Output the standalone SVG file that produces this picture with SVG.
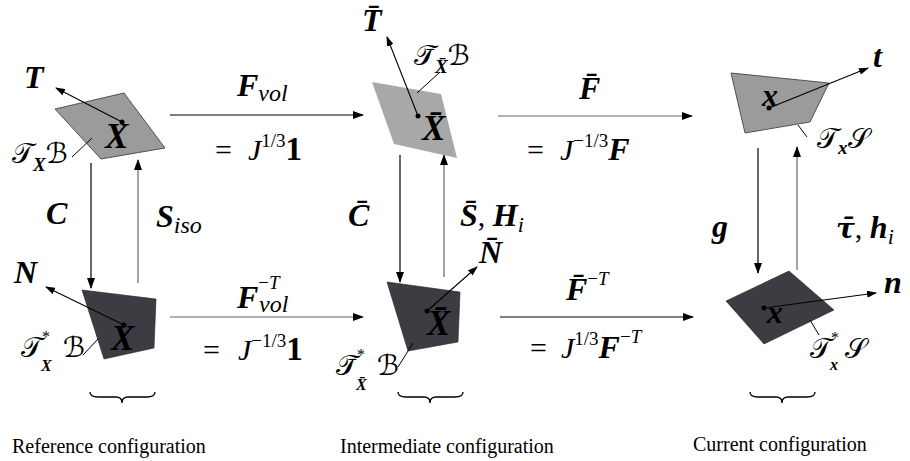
<svg xmlns="http://www.w3.org/2000/svg" width="910" height="461" viewBox="0 0 910 461">
<defs>
<marker id="ah" markerWidth="11" markerHeight="8" refX="10" refY="4" orient="auto" markerUnits="userSpaceOnUse"><path d="M0,0 L11,4 L0,8 z" fill="#000"/></marker>
<marker id="vh" markerWidth="10" markerHeight="7" refX="9" refY="3.5" orient="auto" markerUnits="userSpaceOnUse"><path d="M0,0 L10,3.5 L0,7 z" fill="#000"/></marker>
</defs>
<style>
text{font-family:"Liberation Serif","DejaVu Serif",serif;fill:#000}
.m{font-style:italic;font-weight:bold}
.i{font-style:italic;font-weight:normal}
.r{font-style:normal;font-weight:normal}
.b{font-style:normal;font-weight:bold}
.g{font-family:"DejaVu Serif",serif;font-style:italic;font-weight:bold}
.cal{font-family:"DejaVu Sans","DejaVu Serif",serif;font-style:normal;font-weight:normal}
.lt{fill:#9b9b9b;stroke:#333;stroke-width:0.8}
.lt2{fill:#a8a8a8}
.dk{fill:#3c3c42;stroke:#222;stroke-width:0.6}
.vec{stroke:#000;stroke-width:1.1;fill:none;marker-end:url(#vh)}
.lead{stroke:#000;stroke-width:1;fill:none}
.brace{stroke:#000;stroke-width:1.3;fill:none}
.cap{font-size:20px}
.e{stroke:#000;stroke-width:1.2;fill:none;marker-end:url(#ah)}
.eg{stroke:#666;stroke-width:1.2;fill:none;marker-end:url(#ah)}
</style>

<g id="connectors">
<line class="e" x1="170" y1="115" x2="363" y2="115"/>
<line class="eg" x1="170" y1="317" x2="363" y2="317"/>
<line class="eg" x1="498" y1="116" x2="692" y2="116"/>
<line class="e" x1="500" y1="317" x2="693" y2="317"/>
<line class="e" x1="91" y1="163" x2="91" y2="288"/>
<line class="eg" x1="138" y1="283" x2="138" y2="160"/>
<line class="e" x1="400" y1="155" x2="400" y2="282"/>
<line class="eg" x1="444" y1="277" x2="444" y2="155"/>
<line class="e" x1="758" y1="148" x2="758" y2="273"/>
<line class="eg" x1="797" y1="270" x2="797" y2="147"/>
</g>

<g id="edge-labels">
<text x="237" y="96"><tspan class="m" font-size="32">F</tspan><tspan class="i" font-size="24" dy="5">vol</tspan></text>
<text x="215" y="160"><tspan class="r" font-size="30">=</tspan><tspan class="i" font-size="30" x="248">J</tspan><tspan class="r" font-size="19" dy="-13">1/3</tspan><tspan class="b" font-size="33" dy="13">1</tspan></text>
<text x="237" y="308"><tspan class="m" font-size="32">F</tspan><tspan class="r" font-size="19" dy="-19">−</tspan><tspan class="i" font-size="19">T</tspan><tspan class="i" font-size="24" x="259" dy="23">vol</tspan></text>
<text x="203" y="360"><tspan class="r" font-size="30">=</tspan><tspan class="i" font-size="30" x="238">J</tspan><tspan class="r" font-size="19" dy="-13">−1/3</tspan><tspan class="b" font-size="33" dy="13">1</tspan></text>
<text x="579" y="99"><tspan class="m" font-size="32">F̄</tspan></text>
<text x="527" y="160"><tspan class="r" font-size="30">=</tspan><tspan class="i" font-size="30" x="560">J</tspan><tspan class="r" font-size="19" dy="-13">−1/3</tspan><tspan class="m" font-size="32" dy="13">F</tspan></text>
<text x="566" y="300"><tspan class="m" font-size="32">F̄</tspan><tspan class="r" font-size="19" dy="-15">−</tspan><tspan class="i" font-size="19">T</tspan></text>
<text x="530" y="358"><tspan class="r" font-size="30">=</tspan><tspan class="i" font-size="30" x="561">J</tspan><tspan class="r" font-size="19" dy="-13">1/3</tspan><tspan class="m" font-size="32" dy="13">F</tspan><tspan class="r" font-size="19" dy="-15">−</tspan><tspan class="i" font-size="19">T</tspan></text>
<text class="m" x="46" y="224" font-size="32">C</text>
<text x="156" y="227"><tspan class="m" font-size="32">S</tspan><tspan class="i" font-size="24" dy="6">iso</tspan></text>
<text class="m" x="348" y="226" font-size="32">C̄</text>
<text x="460" y="226"><tspan class="m" font-size="32">S̄</tspan><tspan class="r" font-size="30">, </tspan><tspan class="m" font-size="32">H</tspan><tspan class="i" font-size="22" dy="6">i</tspan></text>
<text class="m" x="712" y="237" font-size="32">g</text>
<text x="836" y="238"><tspan class="g" font-size="28">τ̄</tspan><tspan class="r" font-size="30">, </tspan><tspan class="m" font-size="32">h</tspan><tspan class="i" font-size="22" dy="6">i</tspan></text>
</g>

<g id="node-ref-tangent">
<polygon class="lt" points="55,109 124,93 165,148 101,159"/>
<line class="vec" x1="122" y1="122" x2="56" y2="88"/>
<circle cx="122" cy="122" r="2.5"/>
<line class="lead" x1="92" y1="138" x2="72" y2="157"/>
<text class="m" x="24" y="88" font-size="32">T</text>
<text class="m" x="105" y="148" font-size="35">X</text>
<text x="12" y="163" font-size="28"><tspan class="cal">𝒯</tspan><tspan class="m" font-size="19" dy="8">X</tspan><tspan class="cal" dy="-8">ℬ</tspan></text>
</g>

<g id="node-ref-cotangent">
<polygon class="dk" points="82,290 156,299 154,348 104,359"/>
<line class="vec" x1="124" y1="325" x2="46" y2="287"/>
<circle cx="124" cy="325" r="2.5"/>
<line class="lead" x1="98" y1="339" x2="83" y2="355"/>
<text class="m" x="14" y="283" font-size="32">N</text>
<text class="m" x="111" y="350" font-size="35">X</text>
<text x="21" y="357" font-size="28"><tspan class="cal">𝒯</tspan><tspan class="r" font-size="16" dy="-15">*</tspan><tspan class="m" font-size="16" x="41" dy="29">X</tspan><tspan class="cal" x="63" dy="-14">ℬ</tspan></text>
<path class="brace" d="M90,392 Q90,397 98,397 L116,397 Q122,397 122,403 Q122,397 128,397 L147,397 Q155,397 155,392"/>
</g>

<g id="node-int-tangent">
<polygon class="lt2" points="372,82 441,94 457,158 394,144"/>
<line class="vec" x1="418" y1="116" x2="387" y2="37"/>
<circle cx="418" cy="116" r="2.5"/>
<line class="lead" x1="417" y1="93" x2="440" y2="72"/>
<text class="m" x="362" y="31" font-size="32">T̄</text>
<text x="414" y="65" font-size="28"><tspan class="cal">𝒯̄</tspan><tspan class="m" font-size="19" dy="8">X̄</tspan><tspan class="cal" dy="-8">ℬ</tspan></text>
<text class="m" x="422" y="140" font-size="35">X̄</text>
</g>

<g id="node-int-cotangent">
<polygon class="dk" points="387,282 460,292 458,342 408,351"/>
<line class="vec" x1="427" y1="311" x2="477" y2="267"/>
<circle cx="427" cy="311" r="2.5"/>
<line class="lead" x1="413" y1="343" x2="398" y2="367"/>
<text class="m" x="479" y="263" font-size="32">N̄</text>
<text class="m" x="427" y="335" font-size="35">X̄</text>
<text x="336" y="375" font-size="28"><tspan class="cal">𝒯̄</tspan><tspan class="r" font-size="16" dy="-15">*</tspan><tspan class="m" font-size="16" x="356" dy="30">X̄</tspan><tspan class="cal" x="377" dy="-15">ℬ</tspan></text>
<path class="brace" d="M398,392 Q398,397 406,397 L424,397 Q430,397 430,403 Q430,397 436,397 L455,397 Q463,397 463,392"/>
</g>

<g id="node-cur-tangent">
<polygon class="lt" points="731,73 829,83 810,122 745,133"/>
<line class="vec" x1="769" y1="108" x2="868" y2="68"/>
<circle cx="769" cy="108" r="2.5"/>
<line class="lead" x1="798" y1="125" x2="807" y2="137"/>
<text class="m" x="873" y="67" font-size="32">t</text>
<text class="m" x="762" y="106" font-size="32">x</text>
<text x="817" y="148" font-size="28"><tspan class="cal">𝒯</tspan><tspan class="m" font-size="19" dy="6">x</tspan><tspan class="cal" dy="-6">𝒮</tspan></text>
</g>

<g id="node-cur-cotangent">
<polygon class="dk" points="726,301 789,271 834,310 764,344"/>
<line class="vec" x1="764" y1="308" x2="876" y2="293"/>
<circle cx="764" cy="308" r="2.5"/>
<line class="lead" x1="810" y1="320" x2="819" y2="335"/>
<text class="m" x="884" y="293" font-size="32">n</text>
<text class="m" x="767" y="323" font-size="32">x</text>
<text x="810" y="358" font-size="28"><tspan class="cal">𝒯</tspan><tspan class="r" font-size="16" dy="-15">*</tspan><tspan class="m" font-size="16" x="830" dy="27">x</tspan><tspan class="cal" x="845" dy="-12">𝒮</tspan></text>
<path class="brace" d="M750,392 Q750,397 758,397 L776,397 Q782,397 782,403 Q782,397 788,397 L807,397 Q815,397 815,392"/>
</g>

<g id="captions">
<text class="cap" x="12" y="453">Reference configuration</text>
<text class="cap" x="340" y="453">Intermediate configuration</text>
<text class="cap" x="693" y="451">Current configuration</text>
</g>
</svg>
